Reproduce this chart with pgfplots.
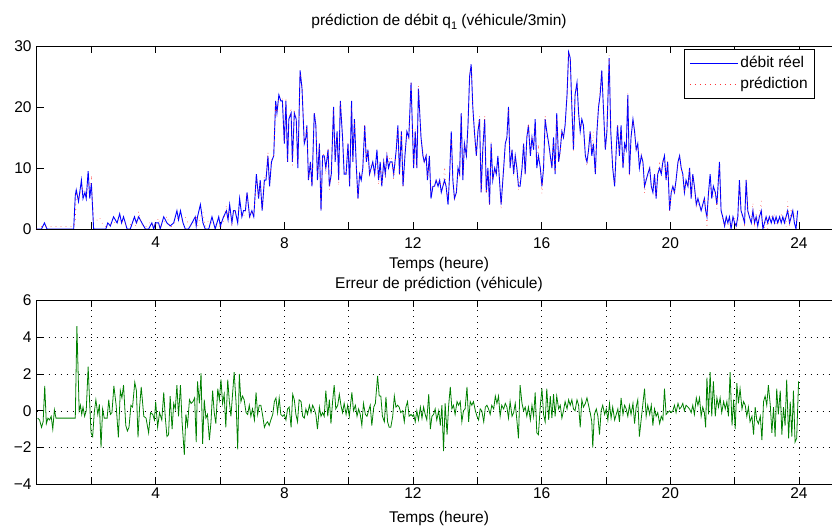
\documentclass[border=0pt]{standalone}
\usepackage{pgfplots}
\usepackage{pgfplotstable}
\pgfplotsset{compat=1.18}
\usepackage{fontspec}
\setmainfont{Liberation Sans}
\definecolor{mgreen}{RGB}{0,128,0}
\definecolor{mblue}{RGB}{0,0,255}
\definecolor{mred}{RGB}{255,50,50}
\pgfplotstableread{
t r p
0.30 0 0
0.45 0 0.4
0.54 1 0.3
0.62 0 0.5
0.80 0 0.4
1.00 0 0.4
1.20 0 0.4
1.45 0 0.4
1.50 5.5 1.2
1.53 6.4 5.8
1.60 4.5 5.2
1.69 8 6.5
1.74 5 6.8
1.80 6 5.6
1.84 5 5.6
1.90 9.5 7.2
1.95 5 6.5
2.00 7.5 8.2
2.07 0 1.5
2.15 0 1.3
2.25 0 1.9
2.35 0 0.8
2.45 0 0.4
2.51 1 0.6
2.59 0.5 0.8
2.69 2 0.9
2.80 1 1.4
2.88 2.5 1.5
2.94 1 1.6
3.00 2 0.8
3.11 0 0.8
3.21 0 0.7
3.34 2 0.6
3.40 1 0.5
3.47 2 2.9
3.57 1 0.7
3.68 0 0.3
3.78 0 1.0
3.88 1 1.0
3.94 0 0.4
3.99 1 0.6
4.09 1 1.8
4.14 0 0.1
4.25 2 1.0
4.35 1 2.1
4.45 0.5 0.2
4.56 1 0.7
4.66 3 1.6
4.71 1.5 1.8
4.77 3 1.6
4.85 1 1.6
4.92 0 2.0
5.02 0 0.8
5.13 1 0.5
5.23 2 1.3
5.26 0.5 2.2
5.30 2 0.4
5.39 4 2.0
5.47 1 2.8
5.54 0 0.4
5.65 0 1.4
5.75 2 0.9
5.85 0 0.7
5.96 2 0.8
6.01 0.5 0.1
6.11 2 1.4
6.20 3 3.9
6.25 1.5 1.8
6.30 4 3.3
6.37 1 0.4
6.42 3 3.2
6.47 3 2.4
6.55 1 3.1
6.61 5 3.0
6.68 2 2.0
6.73 3 2.2
6.79 3 2.4
6.84 6 5.9
6.92 2 1.7
6.99 3 3.0
7.05 2 2.5
7.13 9 8.0
7.20 5 5.2
7.25 8 7.7
7.31 3 3.3
7.38 8 8.9
7.43 8 8.7
7.49 12 12.6
7.54 7 7.8
7.60 11 11.5
7.67 12 12.0
7.73 21 20.3
7.77 19 19.1
7.83 22 21.3
7.89 21 21.2
7.94 21 21.3
8.00 14 14.2
8.05 21 21.5
8.10 11 10.9
8.14 18 17.8
8.21 19 19.9
8.25 11 10.1
8.31 19 19.4
8.37 18 18.2
8.42 10 10.6
8.49 26 25.4
8.55 23 23.5
8.62 14 14.3
8.67 15 15.4
8.70 17 16.9
8.75 8 8.2
8.81 11 10.7
8.86 7 7.1
8.93 19 19.0
8.98 17 17.2
9.03 8 9.0
9.09 14 14.2
9.14 3 3.3
9.19 12 12.1
9.24 12 12.3
9.29 10 8.9
9.36 13 13.3
9.40 7 6.4
9.46 9 9.7
9.53 20 19.5
9.58 11 11.6
9.64 16 15.7
9.69 8 7.1
9.74 21 20.7
9.81 15 15.1
9.86 9 9.6
9.92 9 9.2
9.98 14 14.3
10.03 7 7.3
10.09 21 20.0
10.13 11 11.0
10.18 18 17.7
10.24 10 10.3
10.29 5 4.9
10.34 9 9.2
10.39 8 8.8
10.44 10 9.6
10.50 17 17.2
10.55 11 11.3
10.60 13 13.0
10.65 9 8.7
10.70 10 10.8
10.75 11 10.8
10.81 9 8.6
10.88 13 11.1
10.93 8 7.2
10.98 11 10.2
11.03 7 7.3
11.09 11 11.6
11.14 9 8.3
11.19 12 12.6
11.24 10 10.9
11.29 11 11.9
11.35 11 11.3
11.40 9 8.2
11.48 13 12.8
11.53 17 16.7
11.58 9 8.8
11.64 16 16.1
11.69 7 7.0
11.75 12 12.6
11.81 16 15.8
11.87 15 14.5
11.94 24 24.2
12.02 10 10.2
12.07 16 16.6
12.12 10 10.0
12.17 23 23.5
12.25 15 14.8
12.31 12 12.4
12.35 11 10.8
12.41 12 12.2
12.45 8 8.5
12.51 12 11.1
12.56 5 6.0
12.62 7 7.3
12.67 7 7.2
12.72 8 7.9
12.78 7 7.5
12.83 8 8.0
12.88 6 6.8
12.93 7 6.7
12.98 8 10.2
13.03 7 6.6
13.09 4 5.3
13.14 9 8.7
13.19 16 14.7
13.24 8 7.9
13.29 5 4.7
13.35 6 6.2
13.40 10 9.5
13.45 9 8.7
13.50 19 18.5
13.55 8 8.6
13.60 14 14.0
13.66 12 11.9
13.71 17 15.7
13.76 25 25.6
13.81 27 26.5
13.86 20 19.7
13.91 16 15.5
13.97 12 12.0
14.02 16 16.3
14.07 18 18.5
14.12 6 5.9
14.17 13 13.0
14.23 18 18.6
14.28 6 5.8
14.33 10 9.7
14.38 4 3.8
14.43 14 14.2
14.48 8 8.5
14.54 10 9.7
14.59 9 9.1
14.64 12 11.2
14.69 8 7.6
14.74 4 3.2
14.82 10 10.3
14.87 14 13.2
14.92 15 15.3
14.97 20 19.6
15.02 10 10.3
15.08 13 13.2
15.13 9 8.7
15.18 12 12.0
15.23 10 10.4
15.28 7 6.2
15.33 7 8.5
15.39 10 9.6
15.44 14 14.0
15.49 9 8.8
15.54 15 15.3
15.59 17 16.8
15.65 12 12.5
15.70 15 14.7
15.75 13 13.3
15.80 18 17.0
15.85 10 11.2
15.90 12 13.3
15.96 10 9.7
16.01 7 5.8
16.06 10 10.2
16.11 18 18.6
16.16 16 14.8
16.22 14 14.5
16.27 12 11.2
16.32 10 10.4
16.37 15 14.1
16.42 9 9.3
16.47 19 18.2
16.53 11 10.9
16.58 13 12.7
16.63 16 16.4
16.68 15 15.0
16.73 17 16.5
16.79 22 21.9
16.84 29 28.4
16.89 28 27.7
16.94 20 19.4
16.99 13 12.9
17.04 22 22.0
17.10 24 23.4
17.15 19 18.7
17.20 16 16.9
17.25 18 17.4
17.30 17 16.8
17.36 12 11.6
17.41 11 10.3
17.46 13 12.7
17.51 16 16.1
17.56 12 12.6
17.61 14 16.0
17.67 9 9.2
17.72 16 16.1
17.77 20 20.3
17.82 22 23.3
17.87 26 26.0
17.92 20 19.7
17.98 13 13.2
18.03 16 15.9
18.10 28 28.5
18.15 16 15.6
18.21 10 10.5
18.27 7 7.5
18.32 13 13.2
18.36 17 16.9
18.42 12 12.6
18.47 17 16.3
18.53 10 10.2
18.58 14 13.7
18.63 13 12.9
18.68 22 22.3
18.73 9 8.7
18.78 15 15.2
18.84 18 17.6
18.89 16 16.7
18.94 13 12.8
18.99 14 13.4
19.04 10 11.4
19.10 12 12.4
19.15 11 10.6
19.20 7 5.8
19.25 8 8.3
19.30 9 8.7
19.36 10 10.2
19.41 7 6.7
19.46 6 6.8
19.51 9 8.9
19.56 5 5.3
19.61 9 9.1
19.67 10 10.7
19.72 9 9.3
19.77 11 11.5
19.82 12 10.8
19.87 8 8.2
19.92 11 11.1
19.98 3 3.0
20.03 6 6.1
20.08 7 7.0
20.13 6 5.7
20.18 8 8.1
20.24 11 10.6
20.29 12 11.9
20.34 10 9.8
20.39 9 8.6
20.44 6 6.0
20.49 8 7.7
20.55 7 6.8
20.60 10 9.9
20.65 5 5.1
20.70 9 8.7
20.75 7 7.2
20.81 4 3.3
20.86 5 4.7
20.91 4 3.3
20.96 3 3.3
21.01 4 3.8
21.06 5 5.1
21.10 3 3.9
21.14 2 0.2
21.19 6 6.2
21.24 9 6.9
21.29 5 5.3
21.34 7 5.4
21.40 6 6.3
21.45 4 3.3
21.53 11 10.3
21.58 3 3.1
21.63 2 1.5
21.69 0.5 0.4
21.74 2 1.5
21.79 1 1.3
21.84 2 0
21.89 0 0.8
21.95 2 1.4
22.00 1 2.0
22.05 0.5 0
22.10 2 0.5
22.15 8 7.2
22.20 3 2.9
22.26 2 1.5
22.31 1 0.7
22.36 8 8.3
22.41 3 2.8
22.46 2 2.6
22.52 1 1.3
22.57 3 4.3
22.62 1 0.8
22.67 2 2.5
22.72 0.5 1.2
22.77 2 2.3
22.83 3 4.6
22.88 0 0
22.93 1 0.2
22.98 2 1.7
23.03 1 0
23.08 2 1.7
23.14 1 2.2
23.19 2 1.8
23.24 1 2.4
23.29 2 0.8
23.34 1 1.2
23.40 2 0.9
23.45 1 2.3
23.50 2 1.8
23.55 1 1.8
23.60 2 0.3
23.65 3 4.5
23.71 1 0.5
23.76 2 3.4
23.81 3 1.9
23.86 1 2.7
23.91 0 1.5
23.96 3 1.4
}\topdata
\pgfplotstableread{
t e
0.33 -0.4
0.39 -0.5
0.45 -0.9
0.50 -0.6
0.55 1.35
0.60 -0.7
0.65 -0.4
0.70 -0.5
0.75 -0.3
0.80 -1.0
0.85 0.05
0.90 -0.4
1.50 -0.4
1.55 4.6
1.62 0
1.66 0.3
1.70 -0.2
1.74 0.2
1.79 -0.3
1.84 0
1.90 2.4
1.95 0.3
1.99 -1.2
2.04 -1.4
2.09 -0.1
2.14 0.6
2.20 -0.2
2.25 0.35
2.30 -2.0
2.35 0.1
2.40 -0.4
2.49 -0.4
2.54 0.6
2.59 -0.2
2.64 -0.1
2.70 1.35
2.77 0.3
2.84 -1.45
2.90 1.1
2.95 0.7
3.00 1.4
3.07 -0.8
3.12 -1.1
3.17 -0.9
3.23 0.3
3.28 0.2
3.35 1.55
3.40 1.1
3.45 -1.45
3.50 0.2
3.55 1.3
3.63 -0.3
3.70 -0.4
3.78 -1.2
3.84 -0.1
3.91 -0.2
3.96 -0.5
4.00 0.5
4.06 -0.9
4.12 -0.1
4.19 -0.5
4.25 1.0
4.30 -0.4
4.35 -1.4
4.40 -1.3
4.45 0.8
4.51 -1.0
4.56 0.4
4.61 0.1
4.66 1.4
4.71 -0.3
4.77 1.4
4.82 -0.6
4.89 -2.4
4.94 -0.2
4.99 -0.8
5.05 0.6
5.10 0.4
5.16 0.5
5.21 0.7
5.26 -1.7
5.30 1.6
5.36 0.4
5.41 2.05
5.46 -1.8
5.51 0.6
5.56 -0.4
5.61 -0.2
5.67 -1.6
5.72 -0.6
5.77 1.1
5.82 -0.1
5.87 -0.7
5.93 1.2
5.98 0.6
6.03 1.7
6.08 0.4
6.13 0.9
6.18 -0.9
6.24 1.7
6.29 0.5
6.34 -0.3
6.39 0.9
6.44 2.1
6.50 0.4
6.55 -2.1
6.60 2.0
6.65 0.5
6.70 0.8
6.75 0.6
6.81 -0.1
6.86 -0.2
6.91 0.3
6.96 -0.3
7.01 0.1
7.07 -0.5
7.12 1.0
7.17 -0.2
7.22 0.3
7.27 0.3
7.33 -0.3
7.38 -0.9
7.43 -0.7
7.48 -0.6
7.53 -0.8
7.58 -0.5
7.64 -0.2
7.69 0.5
7.74 0.7
7.79 -0.1
7.84 0.7
7.89 -0.2
7.95 -0.3
8.00 -0.2
8.05 -0.5
8.10 0.1
8.15 0.2
8.21 -0.9
8.26 0.9
8.31 0.6
8.36 -0.2
8.41 -0.6
8.46 0.6
8.52 0.5
8.57 -0.3
8.62 -0.4
8.67 0.1
8.72 -0.2
8.78 0.3
8.83 -0.1
8.88 0.3
8.93 0.1
8.98 -0.2
9.03 -1.0
9.09 0.2
9.14 -0.3
9.19 -0.1
9.24 -0.3
9.29 1.1
9.35 -0.3
9.40 0.6
9.45 -0.7
9.50 0.5
9.55 1.4
9.60 0.1
9.66 0.3
9.71 0.9
9.76 0.3
9.81 -0.1
9.86 0.4
9.92 -0.2
9.97 0.3
10.02 -0.3
10.10 1.0
10.15 0.0
10.21 0.3
10.26 -0.3
10.31 0.1
10.36 -0.2
10.41 -0.8
10.46 0.4
10.52 -0.2
10.57 -0.3
10.62 0.0
10.67 0.3
10.72 -0.8
10.78 0.2
10.83 0.4
10.90 1.9
10.95 0.8
11.00 0.8
11.05 -0.3
11.11 -0.6
11.16 0.75
11.21 -0.6
11.26 -0.9
11.31 -0.9
11.37 -0.3
11.42 0.8
11.47 0.2
11.52 0.3
11.57 0.2
11.62 -0.1
11.68 0.0
11.73 -0.6
11.78 0.2
11.83 0.5
11.88 -0.3
11.94 -0.2
11.99 -0.3
12.02 -0.2
12.07 -0.6
12.12 0.0
12.17 -0.5
12.23 0.2
12.28 -0.4
12.33 0.2
12.38 -0.2
12.43 -0.5
12.49 0.9
12.54 -1.0
12.59 -0.3
12.64 -0.2
12.69 0.1
12.74 -0.5
12.80 0.0
12.85 -0.8
12.90 0.3
12.95 -2.2
13.00 0.4
13.06 -1.3
13.11 0.3
13.16 1.3
13.21 0.1
13.26 0.3
13.31 -0.2
13.37 0.5
13.42 0.3
13.47 0.5
13.52 -0.6
13.57 0.0
13.62 0.1
13.68 1.3
13.73 -0.6
13.78 0.5
13.83 0.3
13.88 0.5
13.94 0.0
13.99 -0.3
14.04 -0.5
14.09 0.1
14.14 0.0
14.20 -0.6
14.25 0.2
14.30 0.3
14.35 0.1
14.40 -0.2
14.45 0.3
14.51 0.1
14.56 0.8
14.61 0.4
14.66 0.8
14.71 -0.3
14.76 0.3
14.82 0.1
14.87 0.4
14.92 0.2
14.97 -0.4
15.02 0.5
15.08 -0.3
15.13 -0.1
15.18 0.4
15.23 -0.5
15.28 -1.5
15.33 1.4
15.39 0.4
15.44 0.0
15.49 0.2
15.54 -0.3
15.59 0.2
15.65 -0.5
15.70 0.3
15.75 -0.3
15.80 1.0
15.85 -1.2
15.90 -1.3
15.96 0.3
16.01 1.2
16.06 -0.2
16.11 -0.6
16.16 1.2
16.22 -0.5
16.27 0.8
16.32 -0.4
16.37 0.9
16.42 -0.3
16.47 0.8
16.53 0.1
16.58 0.3
16.63 -0.4
16.68 0.0
16.73 0.5
16.79 0.1
16.84 0.6
16.89 0.3
16.94 0.6
16.99 0.1
17.04 0.0
17.10 0.6
17.15 0.3
17.20 -0.9
17.25 0.6
17.30 0.2
17.36 0.4
17.41 0.7
17.46 0.3
17.51 -0.1
17.56 -0.6
17.59 -2.0
17.64 -0.2
17.70 0.1
17.75 -0.3
17.80 -1.3
17.85 0.0
17.90 0.3
17.96 -0.2
18.01 0.1
18.06 -0.5
18.11 0.4
18.16 -0.4
18.21 0.2
18.27 -0.5
18.32 -0.2
18.37 0.1
18.42 -0.6
18.47 0.7
18.53 -0.2
18.58 0.3
18.63 0.1
18.68 -0.3
18.73 0.3
18.78 -0.2
18.84 0.4
18.89 -0.7
18.94 0.2
18.99 0.6
19.04 -1.4
19.10 -0.4
19.15 0.4
19.20 1.2
19.25 -0.3
19.30 0.3
19.36 -0.2
19.41 0.3
19.46 -0.8
19.51 0.1
19.56 -0.3
19.61 -0.1
19.67 -0.7
19.72 -0.3
19.77 -0.5
19.82 1.2
19.87 -0.2
19.92 -0.1
19.98 0.0
20.03 -0.1
20.08 0.0
20.13 0.3
20.18 -0.1
20.24 0.4
20.29 0.1
20.34 0.2
20.39 0.4
20.44 0.0
20.49 0.3
20.55 0.2
20.60 0.1
20.65 -0.1
20.70 0.3
20.75 -0.2
20.81 0.7
20.86 0.3
20.91 0.7
20.96 -0.3
21.01 0.2
21.06 -0.1
21.10 -0.9
21.14 1.8
21.19 -0.2
21.24 2.1
21.29 -0.3
21.34 1.6
21.40 -0.3
21.45 0.7
21.50 0.2
21.55 0.7
21.60 -0.1
21.66 0.5
21.71 0.1
21.76 0.5
21.81 -0.3
21.86 2.1
21.92 -0.8
21.97 0.6
22.02 -1.0
22.07 1.5
22.12 0.4
22.17 1.2
22.23 0.1
22.28 0.5
22.33 0.3
22.38 -0.3
22.43 0.2
22.48 -0.6
22.54 -0.3
22.59 -1.3
22.64 0.2
22.69 -0.5
22.74 -0.7
22.80 -0.3
22.85 -1.6
22.90 0.5
22.95 0.8
23.00 0.3
23.05 1.4
23.11 0.3
23.16 -1.2
23.21 0.2
23.26 -1.4
23.31 1.2
23.36 -0.2
23.42 1.1
23.47 -1.3
23.52 0.2
23.57 -0.8
23.62 1.7
23.68 -1.5
23.73 0.5
23.78 -1.4
23.83 1.1
23.88 -1.7
23.93 -1.5
23.99 1.6
}\errdata
\pgfplotsset{
  myax/.style={
    scale only axis, anchor=south west,
    xmin=0.3, xmax=25.34,
    tick align=inside, major tick length=7pt,
    axis line style={line width=0.8pt},
    every tick/.style={black, line width=0.6pt},
    tick label style={font=\fontsize{15.5}{18}\selectfont},
    /pgf/number format/assume math mode=true,
    xtick={2,4,...,24},
    xticklabels={,4,,8,,12,,16,,20,,24},
    xticklabel style={anchor=north, inner sep=0pt},
    yticklabel style={anchor=east, inner sep=0pt, xshift=-5pt},
  }
}
\begin{document}
\begin{tikzpicture}
\path[use as bounding box] (0pt,0pt) rectangle (832pt,527pt);
\begin{axis}[myax, at={(36.7pt,298pt)}, width=805.3pt, height=183pt,
  ymin=0, ymax=30, ytick={0,10,20,30},
  xticklabel style={yshift=-8pt},
  legend style={at={(0.9665,0.982)}, anchor=north east, draw=black, line width=0.8pt,
    fill=white, font=\fontsize{15.5}{18}\selectfont, inner xsep=5pt, inner ysep=4.5pt,
    row sep=2pt, nodes={inner sep=2pt, text height=11.5pt, text depth=3.5pt}},
  legend cell align=left,
  legend image code/.code={\draw[mark repeat=2,mark phase=2,#1] plot coordinates {(0pt,0pt) (24pt,0pt) (48pt,0pt)};}]
\addplot[color=mblue, line width=0.9pt] table[x=t, y=r] {\topdata};
\addlegendentry{débit réel}
\addplot[color=mred, line width=0.6pt, dash pattern=on 0.6pt off 4.4pt] table[x=t, y=p] {\topdata};
\addlegendentry{prédiction}
\end{axis}
\begin{axis}[myax, at={(36.7pt,42.7pt)}, width=805.3pt, height=183.8pt,
  ymin=-4, ymax=6, ytick={-4,-2,...,6}, yticklabels={−4,−2,0,2,4,6},
  grid=major, grid style={black, line width=0.5pt, dash pattern=on 0.6pt off 5.4pt},
  xticklabel style={yshift=-3pt}]
\addplot[color=mgreen, line width=0.8pt] table[x=t, y=e] {\errdata};
\end{axis}
\begin{scope}[every node/.style={font=\fontsize{15.5}{18}\selectfont, inner sep=0pt}]
\node[anchor=base] at (439pt,501pt) {prédiction de débit q\raisebox{-4pt}{\fontsize{11}{11}\selectfont 1} (véhicule/3min)};
\node[anchor=base] at (439pt,258.3pt) {Temps (heure)};
\node[anchor=base] at (439pt,238.7pt) {Erreur de prédiction (véhicule)};
\node[anchor=base] at (439pt,4.3pt) {Temps (heure)};
\end{scope}
\end{tikzpicture}
\end{document}
